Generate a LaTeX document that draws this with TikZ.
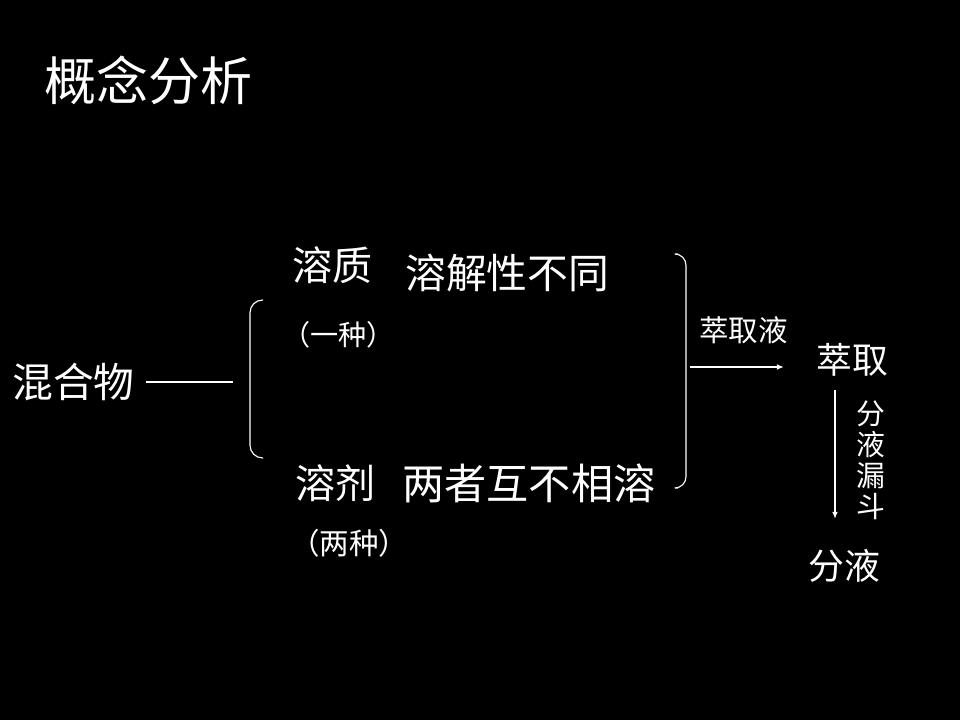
\documentclass[tikz,border=0pt]{standalone}
\usepackage{fontspec}
\newfontfamily\cjk{Noto Sans CJK SC}
\usetikzlibrary{arrows.meta, positioning, calc}

\tikzset{
  word/.style={text=white, inner sep=0pt, anchor=west},
  link/.style={draw=white, line width=1pt},
  brace/.style={draw=white, line width=0.8pt, rounded corners=9pt}
}

\begin{document}
\begin{tikzpicture}[x=0.025cm, y=-0.025cm, font=\cjk]
        % canvas
        \fill[black] (0, 0) rectangle (960, 720);

        % title
        \node[word, font=\cjk\fontsize{37}{40}\selectfont] (title) at (44, 80) {概念分析};

        % left part
        \node[word, font=\cjk\fontsize{29}{32}\selectfont] (mix) at (12, 382) {混合物};
        \coordinate (mixend) at (233, 382);
        \draw[link] (mix.east) ++(8pt, 0) coordinate (mixstart) -- (mixend);
        \draw[brace] (263, 300) -- (250, 300) -- (250, 458) -- (263, 458);

        % solute and solvent
        \node[word, font=\cjk\fontsize{28.5}{31}\selectfont] (solute) at (292, 265) {溶质};
        \node[word, font=\cjk\fontsize{29}{32}\selectfont] (solub) at (405, 273) {溶解性不同};
        \node[word, font=\cjk\fontsize{20}{22}\selectfont] (one) at (282, 335) {（一种）};

        \node[word, font=\cjk\fontsize{28.5}{31}\selectfont] (solvent) at (295, 483) {溶剂};
        \node[word, font=\cjk\fontsize{30}{33}\selectfont] (immisc) at (402, 483) {两者互不相溶};
        \node[word, font=\cjk\fontsize{21}{23}\selectfont] (two) at (290, 543) {（两种）};

        % right brace
        \draw[brace, rounded corners=8pt] (678, 254) -- (686, 254) -- (686, 488) -- (678, 488);
        \coordinate (brmid) at (690, 367);

        % extraction
        \node[word, font=\cjk\fontsize{21}{23}\selectfont] (liquid) at (699, 330) {萃取液};
        \node[word, font=\cjk\fontsize{25.5}{28}\selectfont] (extract) at (816, 360) {萃取};
        \coordinate (arrend) at (784, 367);
        \draw[link, -{Latex[length=5pt, width=4pt]}] (brmid) -- (arrend);

        \node[word, font=\cjk\fontsize{25.5}{28}\selectfont] (separate) at (808, 566) {分液};
        \draw[link, -{Latex[length=5pt, width=4pt]}] (835, 390) -- (835, 519);
        \node[text=white, inner sep=0pt, align=center, font=\cjk\fontsize{20.5}{22}\selectfont] (funnel) at (871, 460) {分\\液\\漏\\斗};
    \end{tikzpicture}
\end{document}
